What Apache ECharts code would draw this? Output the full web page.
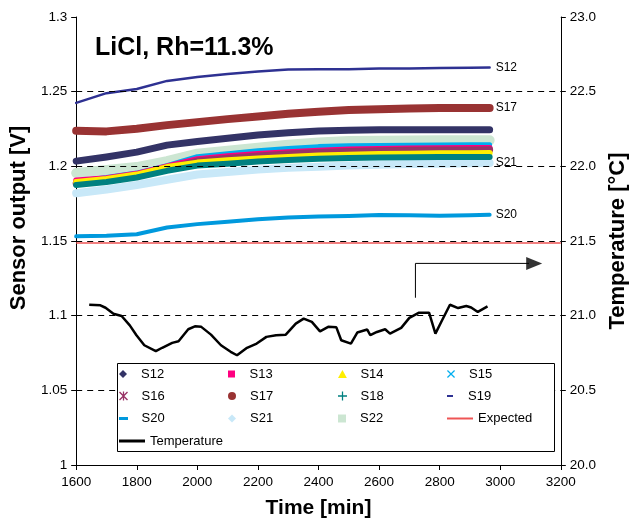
<!DOCTYPE html>
<html><head><meta charset="utf-8">
<script src="https://cdn.jsdelivr.net/npm/echarts/dist/echarts.min.js"></script>
<style>html,body{margin:0;padding:0;background:#fff}#c{width:637px;height:524px}</style>
</head><body><div id="c"></div>
<script>
const FONT = 'Liberation Sans';
// ---- data ----
const times = [1600,1700,1800,1900,2000,2100,2200,2300,2400,2500,2600,2700,2800,2900,2965];
const S12 = [1.2035,1.2063,1.2095,1.2142,1.2166,1.2188,1.2210,1.2225,1.2236,1.2242,1.2245,1.2245,1.2245,1.2245,1.2245];
const S13 = [1.1905,1.1920,1.1950,1.2000,1.2048,1.2068,1.2083,1.2095,1.2105,1.2112,1.2116,1.2119,1.2121,1.2122,1.2123];
const S14 = [1.1895,1.1915,1.1945,1.1995,1.2025,1.2040,1.2052,1.2063,1.2072,1.2078,1.2082,1.2085,1.2087,1.2088,1.2090];
const S15 = [1.1900,1.1925,1.1955,1.2005,1.2065,1.2085,1.2105,1.2120,1.2132,1.2138,1.2140,1.2142,1.2143,1.2145,1.2145];
const S16 = [1.1885,1.1905,1.1935,1.1985,1.2035,1.2055,1.2070,1.2082,1.2092,1.2100,1.2104,1.2107,1.2109,1.2110,1.2111];
const S17 = [1.2238,1.2234,1.2252,1.2276,1.2296,1.2316,1.2334,1.2352,1.2366,1.2377,1.2383,1.2387,1.2390,1.2390,1.2390];
const S18 = [1.1875,1.1895,1.1925,1.1970,1.2005,1.2018,1.2032,1.2042,1.2050,1.2056,1.2059,1.2061,1.2062,1.2063,1.2063];
const S19 = [1.2425,1.2490,1.2518,1.2572,1.2598,1.2618,1.2635,1.2648,1.2650,1.2650,1.2655,1.2655,1.2658,1.2660,1.2662];
const S20 = [1.1531,1.1535,1.1545,1.1590,1.1613,1.1629,1.1645,1.1657,1.1664,1.1668,1.1674,1.1673,1.1669,1.1672,1.1675];
const S21 = [1.1820,1.1845,1.1875,1.1910,1.1945,1.1962,1.1978,1.1990,1.1998,1.2005,1.2010,1.2015,1.2018,1.2020,1.2022];
const S22 = [1.1955,1.1975,1.1995,1.2035,1.2085,1.2105,1.2125,1.2145,1.2160,1.2170,1.2172,1.2173,1.2174,1.2174,1.2174];
const expectedTimes = [1600, 3200];
const expectedValues = [1.1487, 1.1487];
const tempTimes = [1643,1680,1697,1723,1750,1777,1799,1825,1863,1884,1917,1938,1970,1992,2013,2045,2078,2110,2131,2164,2196,2228,2260,2292,2325,2351,2378,2405,2432,2459,2475,2507,2528,2561,2571,2593,2620,2636,2673,2700,2732,2765,2786,2808,2834,2861,2888,2904,2926,2958];
const tempValues = [21.073,21.069,21.053,21.013,20.998,20.935,20.869,20.802,20.762,20.785,20.818,20.829,20.909,20.929,20.925,20.873,20.802,20.758,20.735,20.785,20.813,20.858,20.869,20.873,20.947,20.980,20.958,20.895,20.925,20.922,20.835,20.813,20.887,20.907,20.869,20.891,20.909,20.880,20.918,20.985,21.020,21.020,20.880,20.969,21.073,21.051,21.065,21.055,21.025,21.062];
const arrowTimes = [2720, 2720, 3095];
const arrowTemps = [21.12, 21.35, 21.35];
const arrowHead = [3112, 21.35];
const leftTicks = [1.05, 1.10, 1.15, 1.20, 1.25];
const endLabelText = {S19: 'S12', S17: 'S17', S21: 'S21', S20: 'S20'};

const data = {S12,S13,S14,S15,S16,S17,S18,S19,S20,S21,S22};
const style = {
  S12: {color:'#333366', width:7},
  S13: {color:'#FF0080', width:6},
  S14: {color:'#FFEE00', width:6},
  S15: {color:'#00AEEF', width:5},
  S16: {color:'#993366', width:7},
  S17: {color:'#993333', width:8},
  S18: {color:'#008080', width:6},
  S19: {color:'#2E3192', width:2.5},
  S20: {color:'#0099DD', width:4},
  S21: {color:'#C8E8F8', width:8},
  S22: {color:'#CCE6D2', width:10}
};
const drawOrder = ['S21','S22','S15','S13','S16','S14','S18','S12','S17','S19','S20'];

const series = [];
series.push({
  type:'line', name:'_grid', data:[], silent:true, z:1,
  markLine:{silent:true, symbol:'none', label:{show:false},
    lineStyle:{color:'#000', type:[6,5], width:1},
    data: leftTicks.map(v=>({yAxis:v}))}
});
drawOrder.forEach(n=>{
  const s = {
    type:'line', name:n, data: times.map((t,i)=>[t, data[n][i]]),
    showSymbol:false, symbol:'none', smooth:false,
    itemStyle:{color:style[n].color},
    lineStyle:{color:style[n].color, width:style[n].width, cap:'round', join:'round'},
    z:2, animation:false
  };
  if (endLabelText[n]) {
    s.endLabel = {show:true, formatter:endLabelText[n], color:'#000', fontSize:12, fontFamily:FONT, distance:6};
  }
  series.push(s);
});
series.push({type:'line', name:'Expected', data: expectedTimes.map((t,i)=>[t, expectedValues[i]]),
  showSymbol:false, symbol:'none', itemStyle:{color:'#EE5555'}, lineStyle:{color:'#EE5555', width:1.5}, z:3, animation:false});
series.push({type:'line', name:'Temperature', yAxisIndex:1, data: tempTimes.map((t,i)=>[t, tempValues[i]]),
  showSymbol:false, symbol:'none', itemStyle:{color:'#000'}, lineStyle:{color:'#000', width:2.5}, z:4, animation:false});
series.push({type:'line', name:'_arrow', yAxisIndex:1, data: arrowTimes.map((t,i)=>[t, arrowTemps[i]]),
  showSymbol:false, symbol:'none', lineStyle:{color:'#000', width:1}, z:4, animation:false, silent:true});
series.push({type:'scatter', name:'_arrowhead', yAxisIndex:1, data:[arrowHead], symbol:'triangle', symbolRotate:-90,
  symbolSize:[13,16], itemStyle:{color:'#000'}, z:4, animation:false, silent:true});

const legendRows = [['S12','S13','S14','S15'],['S16','S17','S18','S19'],['S20','S21','S22','Expected'],['Temperature']];
const colLeft = [119, 228, 338, 447];
const rowCenter = [374, 396, 418.5, 441];
const icons = {
  S12:['path://M5,0L10,5L5,10L0,5Z',8],
  S13:['path://M0,0H10V10H0Z',7],
  S14:['path://M5,0L10,9H0Z',8],
  S15:['path://M0,1.1L1.1,0L10,8.9L8.9,10Z M8.9,0L10,1.1L1.1,10L0,8.9Z',8],
  S16:['path://M0,1.1L1.1,0L10,8.9L8.9,10Z M8.9,0L10,1.1L1.1,10L0,8.9Z M4.3,0H5.7V10H4.3Z',9],
  S17:['path://M5,0A5,5,0,1,1,4.99,0Z',8],
  S18:['path://M4.3,0H5.7V4.3H10V5.7H5.7V10H4.3V5.7H0V4.3H4.3Z',9],
  S19:['path://M0,0H6V2H0Z',2],
  S20:['path://M0,0H9V3H0Z',3],
  S21:['path://M5,0L10,5L5,10L0,5Z',8],
  S22:['path://M0,0H10V10H0Z',8],
  Expected:['path://M0,0H26V2H0Z',2],
  Temperature:['path://M0,0H26V3H0Z',3]
};
const legends = [];
legendRows.forEach((row,r)=>row.forEach((name,c)=>{
  const h = icons[name][1];
  legends.push({
    show:true, selectedMode:false, data:[name], left: colLeft[c], top: rowCenter[r]-7.5,
    padding:0, itemGap:0, itemWidth:26, itemHeight:h, icon:icons[name][0], symbolKeepAspect:true,
    itemStyle:{borderWidth:0}, z:20,
    textStyle:{fontFamily:FONT, fontSize:13, color:'#000', lineHeight:15}
  });
}));

const option = {
  animation:false,
  backgroundColor:'#fff',
  textStyle:{fontFamily:FONT},
  title:{text:'LiCl, Rh=11.3%', left:95, top:36, padding:0,
    textStyle:{fontFamily:FONT, fontSize:25, fontWeight:'bold', color:'#000'}},
  grid:{left:75, right:66, top:17, bottom:57},
  xAxis:{type:'value', min:1600, max:3200, interval:200,
    name:'Time [min]', nameLocation:'middle', nameGap:33,
    nameTextStyle:{fontFamily:FONT, fontSize:21, fontWeight:'bold', color:'#000'},
    axisLine:{show:true, onZero:false, lineStyle:{color:'#000', width:1}},
    axisTick:{show:true, length:5, lineStyle:{color:'#000'}},
    axisLabel:{fontFamily:FONT, fontSize:13.5, color:'#000', margin:10, formatter:v=>String(v)},
    splitLine:{show:false}},
  yAxis:[
    {type:'value', min:1, max:1.3, interval:0.05, position:'left',
      name:'Sensor output [V]', nameLocation:'middle', nameGap:37, nameRotate:90,
      nameTextStyle:{fontFamily:FONT, fontSize:22, fontWeight:'bold', color:'#000', padding:[0,0,0,46]},
      axisLine:{show:true, lineStyle:{color:'#000', width:1}},
      axisTick:{show:true, length:5, lineStyle:{color:'#000'}},
      axisLabel:{fontFamily:FONT, fontSize:13.5, color:'#000', margin:9},
      splitLine:{show:false}},
    {type:'value', min:20, max:23, interval:0.5, position:'right',
      name:'Temperature [°C]', nameLocation:'middle', nameGap:46, nameRotate:90,
      nameTextStyle:{fontFamily:FONT, fontSize:22, fontWeight:'bold', color:'#000'},
      axisLine:{show:true, lineStyle:{color:'#000', width:1}},
      axisTick:{show:true, length:5, lineStyle:{color:'#000'}},
      axisLabel:{fontFamily:FONT, fontSize:13.5, color:'#000', margin:9, formatter:v=>v.toFixed(1)},
      splitLine:{show:false}}
  ],
  legend: legends,
  graphic:[{type:'rect', left:117, top:363, shape:{width:437, height:88}, z:10,
    style:{fill:'#fff', stroke:'#000', lineWidth:1}}],
  series: series
};
const chart = echarts.init(document.getElementById('c'), null, {renderer:'canvas'});
chart.setOption(option);
</script></body></html>
